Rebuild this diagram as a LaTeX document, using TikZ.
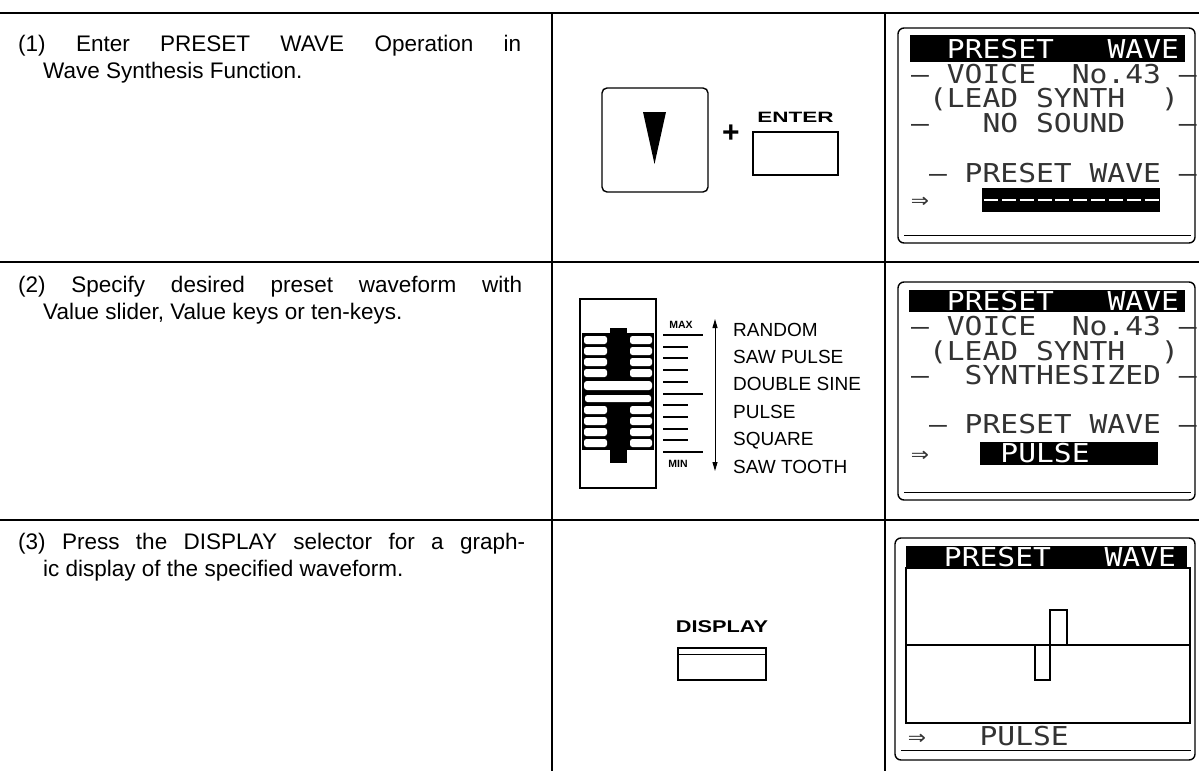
\documentclass[tikz,border=0pt]{standalone}
\usepackage{fontspec}
\setmainfont{Liberation Sans}
\newfontfamily\lcdfont[FakeStretch=1.14]{DejaVu Sans Mono}
\usetikzlibrary{arrows.meta, positioning}

\begin{document}
\begin{tikzpicture}[x=1pt, y=-1pt,
    rule/.style={line width=1.5pt},
    steptext/.style={anchor=base west, inner sep=0, font=\fontsize{22.5}{27}\selectfont},
    keybox/.style={draw, line width=1.4pt, inner sep=0},
    keylabel/.style={inner sep=0, font=\bfseries\fontsize{15}{15}\selectfont},
    wavelabel/.style={anchor=base west, inner sep=0, font=\fontsize{19}{19}\selectfont},
    scalelabel/.style={inner sep=0, font=\bfseries\fontsize{10.5}{10.5}\selectfont},
    scaletick/.style={line width=2pt},
    lcdframe/.style={line width=1.4pt, rounded corners=6pt},
    lcdtext/.style={anchor=base west, inner sep=0, text=black!80, font=\lcdfont\fontsize{26}{26}\selectfont},
    lcdinv/.style={lcdtext, text=white}
  ]
    \useasboundingbox (0,0) rectangle (1199,771);

    \draw[rule] (0,13) -- (1199,13);
    \draw[rule] (0,262) -- (1199,262);
    \draw[rule] (0,520) -- (1199,520);
    \draw[rule] (552,13) -- (552,771);
    \draw[rule] (885,13) -- (885,771);

    \node[steptext] (s1a) at (18,51) {\makebox[503pt][s]{(1) Enter PRESET WAVE Operation in}};
    \node[steptext] (s1b) at (43,78) {Wave Synthesis Function.};
    \node[steptext] (s2a) at (18,292) {\makebox[504pt][s]{(2) Specify desired preset waveform with}};
    \node[steptext] (s2b) at (43,319) {Value slider, Value keys or ten-keys.};
    \node[steptext] (s3a) at (18,549) {\makebox[507pt][s]{(3) Press the DISPLAY selector for a graph-}};
    \node[steptext] (s3b) at (43,576) {ic display of the specified waveform.};

    \node[keybox, rounded corners=5pt, minimum width=106pt, minimum height=104pt] (downkey) at (655,140) {};
    \fill (643,112) -- (666,112) -- (654.5,164) -- cycle;
    \node[inner sep=0, font=\bfseries\fontsize{30}{30}\selectfont] (plus) at (731,134) {+};
    \node[keybox, minimum width=85pt, minimum height=43pt] (enterkey) at (795.5,153.5) {};
    \node[keylabel, above=9pt of enterkey] (enterlbl) {\scalebox{1.5}[1]{ENTER}};

    \draw[line width=1.4pt] (580,299) rectangle (656,488);
    \fill (582,333) rectangle (654,450);
    \foreach \y in {340,351,362,373,410,421,432,443} {
      \fill[white, rounded corners=2.5pt] (584,\y-4) rectangle (607,\y+4);
      \fill[white, rounded corners=2.5pt] (630,\y-4) rectangle (652,\y+4);
    }
    \fill (610,328) rectangle (627,463);
    \fill[white, rounded corners=3pt] (584,381) rectangle (652,390);
    \fill[white, rounded corners=2.5pt] (585,395) rectangle (651,402);

    \foreach \k in {1,2,3,4,6,7,8,9}
      \draw[scaletick] (663,{335+11.7*\k}) -- (688,{335+11.7*\k});
    \foreach \k in {0,5,10}
      \draw[scaletick] (663,{335+11.7*\k}) -- (703,{335+11.7*\k});
    \node[scalelabel] (maxlbl) at (681,325) {MAX};
    \node[scalelabel] (minlbl) at (678,464) {MIN};
    \coordinate (atop) at (715,319);
    \coordinate (abot) at (715,471);
    \draw[line width=1pt, {Triangle[length=9pt,width=5pt]}-{Triangle[length=9pt,width=5pt]}] (abot) -- (atop);
    \foreach \t [count=\i from 0] in {RANDOM, SAW PULSE, DOUBLE SINE, PULSE, SQUARE, SAW TOOTH}
      \node[wavelabel] (w\i) at (733,{336+27.4*\i}) {\t};

    \node[keybox, minimum width=88pt, minimum height=32pt] (dispkey) at (722,664) {};
    \draw[line width=1.2pt] ([yshift=-7pt]dispkey.north west) -- ([yshift=-7pt]dispkey.north east);
    \node[keylabel, above=14pt of dispkey] (displbl) {\fontsize{17}{17}\selectfont\scalebox{1.28}[1]{DISPLAY}};

    \draw[lcdframe] (898,28) rectangle (1195,243);
    \draw[line width=1pt] (904,235) -- (1191,235);
    \fill (910,35) rectangle (1185,62);
    \node[lcdinv] (l1h1) at ({911+2*17.85},58) {PRESET};
    \node[lcdinv] (l1h2) at ({911+11*17.85},58) {WAVE};
    \node[lcdtext] (l1r2) at (911,83) {–\ VOICE\ \ No.43\ –};
    \node[lcdtext] (l1r3) at (911,107) {\ (LEAD\ SYNTH\ \ )};
    \node[lcdtext] (l1r4) at (911,132) {–\ \ \ NO\ SOUND\ \ \ –};
    \node[lcdtext] (l1r6) at (911,182) {\ –\ PRESET\ WAVE\ –};
    \node[lcdtext] (l1r7) at (911,208) {⇒};
    \fill (982,188) rectangle (1160,212);
    \draw[white, line width=2pt, dash pattern=on 14pt off 3.85pt] (984,200) -- (1159,200);

    \draw[lcdframe] (898,282) rectangle (1195,500);
    \draw[line width=1pt] (904,492) -- (1191,492);
    \fill (909,290) rectangle (1185,312);
    \node[lcdinv] (l2h1) at ({911+2*17.85},310) {PRESET};
    \node[lcdinv] (l2h2) at ({911+11*17.85},310) {WAVE};
    \node[lcdtext] (l2r2) at (911,335) {–\ VOICE\ \ No.43\ –};
    \node[lcdtext] (l2r3) at (911,360) {\ (LEAD\ SYNTH\ \ )};
    \node[lcdtext] (l2r4) at (911,384) {–\ \ SYNTHESIZED\ –};
    \node[lcdtext] (l2r6) at (911,433) {\ –\ PRESET\ WAVE\ –};
    \node[lcdtext] (l2r7) at (911,462) {⇒};
    \fill (980,442) rectangle (1158,465);
    \node[lcdinv] (l2sel) at ({911+5*17.85},462) {PULSE};

    \draw[lcdframe] (895,538) rectangle (1195,760);
    \draw[line width=1pt] (901,750) -- (1191,750);
    \fill (906,546) rectangle (1187,568);
    \node[lcdinv] (l3h1) at ({908+2*17.85},566) {PRESET};
    \node[lcdinv] (l3h2) at ({908+11*17.85},566) {WAVE};
    \draw[line width=1.2pt] (906,568) rectangle (1190,723);
    \draw[line width=1.2pt] (906,645) -- (1190,645);
    \draw[line width=1.2pt] (1035,645) -- (1035,680) -- (1050,680) -- (1050,610) -- (1067,610) -- (1067,645);
    \node[lcdtext] (l3arr) at (908,745) {⇒};
    \node[lcdtext] (l3sel) at ({908+4*17.85},745) {PULSE};
  \end{tikzpicture}
\end{document}
